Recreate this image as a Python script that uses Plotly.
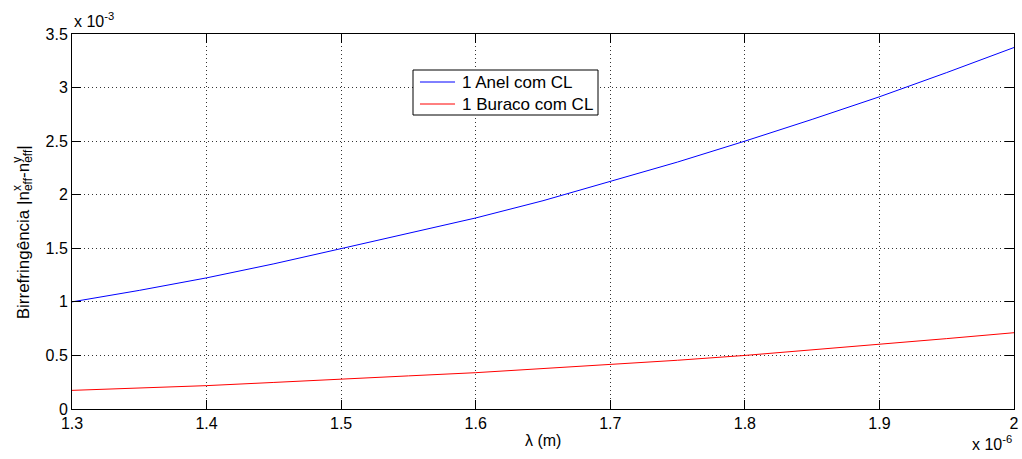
import plotly.graph_objects as go

# Wavelength (x 10^-6 m) and birefringence (x 10^-3)
wavelength_e6 = [1.30, 1.35, 1.40, 1.45, 1.50, 1.55, 1.60, 1.65,
                 1.70, 1.75, 1.80, 1.85, 1.90, 1.95, 2.00]
anel_cl_e3 = [1.000, 1.107, 1.224, 1.355, 1.497, 1.638, 1.783, 1.944,
              2.121, 2.305, 2.500, 2.703, 2.914, 3.140, 3.374]
buraco_cl_e3 = [0.174, 0.195, 0.218, 0.248, 0.282, 0.309, 0.339, 0.377,
                0.415, 0.455, 0.500, 0.550, 0.604, 0.657, 0.712]

series_names = ["1 Anel com CL", "1 Buraco com CL"]
series_colors = ["#0000ff", "#ff0000"]

x_ticks = [1.3, 1.4, 1.5, 1.6, 1.7, 1.8, 1.9, 2.0]
x_ticktext = ["1.3", "1.4", "1.5", "1.6", "1.7", "1.8", "1.9", "2"]
y_ticks = [0, 0.5, 1, 1.5, 2, 2.5, 3, 3.5]
y_ticktext = ["0", "0.5", "1", "1.5", "2", "2.5", "3", "3.5"]

FONT = "Liberation Sans, Arial, sans-serif"
FS = 16

fig = go.Figure()
for ys, name, color in zip([anel_cl_e3, buraco_cl_e3], series_names, series_colors):
    fig.add_trace(go.Scatter(x=wavelength_e6, y=ys, mode="lines", name=name,
                             line=dict(color=color, width=1), showlegend=False))

axis_common = dict(
    showline=True, linecolor="#000000", linewidth=1, mirror="ticks",
    ticks="inside", ticklen=9, tickcolor="#000000", tickwidth=1,
    showgrid=True, gridcolor="#333333", gridwidth=1, griddash="1px,3px",
    zeroline=False, automargin=False,
    tickfont=dict(family=FONT, size=FS, color="#000000"),
)

fig.update_xaxes(range=[1.3, 2.0], tickvals=x_ticks, ticktext=x_ticktext,
                 **axis_common)
fig.update_yaxes(range=[0, 3.5], tickvals=y_ticks, ticktext=y_ticktext,
                 **axis_common)

# x-axis label
fig.add_annotation(text="λ (m)", xref="paper", yref="paper", x=0.5, y=0.0,
                   xanchor="center", yanchor="middle", yshift=-31,
                   showarrow=False,
                   font=dict(family=FONT, size=FS, color="#000000"))

# y-axis label with stacked super/subscripts
sup_sty = "letter-spacing:-6px;font-size:12px"
sub_sty = "font-size:12px"
ylabel = ("Birrefringência |n"
          f"<sup><span style='{sup_sty}'>x</span></sup>"
          f"<sub><span style='{sub_sty}'>eff</span></sub>"
          "-n"
          f"<sup><span style='{sup_sty}'>y</span></sup>"
          f"<sub><span style='{sub_sty}'>eff</span></sub>|")
fig.add_annotation(text=ylabel, xref="paper", yref="paper", x=-0.05, y=0.471,
                   xanchor="center", yanchor="middle", textangle=-90,
                   showarrow=False,
                   font=dict(family=FONT, size=17, color="#000000"))

# exponent labels
fig.add_annotation(text="x 10<sup>-3</sup>", xref="paper", yref="paper",
                   x=0.0, y=1.0, xanchor="left", yanchor="bottom",
                   showarrow=False, yshift=2,
                   font=dict(family=FONT, size=FS, color="#000000"))
fig.add_annotation(text="x 10<sup>-6</sup>", xref="paper", yref="paper",
                   x=1.0, y=0.0, xanchor="right", yanchor="top",
                   showarrow=False, yshift=-22,
                   font=dict(family=FONT, size=FS, color="#000000"))

# legend box with line samples
LEG_X0, LEG_X1, LEG_Y0, LEG_Y1 = 0.362, 0.5584, 0.784, 0.904
fig.add_shape(type="rect", xref="paper", yref="paper",
              x0=LEG_X0, x1=LEG_X1, y0=LEG_Y0, y1=LEG_Y1,
              line=dict(color="#000000", width=1), fillcolor="#ffffff",
              layer="above")
for i, (name, color) in enumerate(zip(series_names, series_colors)):
    ly = 0.872 - i * 0.0587
    fig.add_shape(type="line", xref="paper", yref="paper",
                  x0=0.3694, x1=0.4066, y0=ly, y1=ly,
                  line=dict(color=color, width=1), layer="above")
    fig.add_annotation(text=name, xref="paper", yref="paper",
                       x=0.4119, y=ly, xanchor="left", yanchor="middle",
                       showarrow=False,
                       font=dict(family=FONT, size=17, color="#000000"))

fig.update_layout(
    width=1022, height=459,
    margin=dict(l=72, r=8, t=34, b=50),
    paper_bgcolor="#ffffff", plot_bgcolor="#ffffff",
    font=dict(family=FONT, size=FS, color="#000000"),
    showlegend=False,
)

fig.write_html("out.html")
